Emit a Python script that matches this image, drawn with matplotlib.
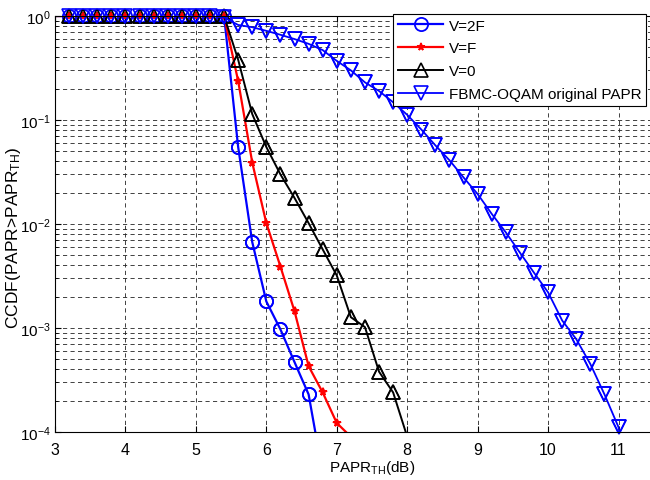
import numpy as np
import matplotlib
matplotlib.use("Agg")
import matplotlib.pyplot as plt
from matplotlib.ticker import LogLocator, NullFormatter

plt.rcParams['font.family'] = ['Liberation Sans', 'DejaVu Sans']
plt.rcParams['mathtext.fontset'] = 'custom'
plt.rcParams['mathtext.rm'] = 'Liberation Sans'
plt.rcParams['mathtext.it'] = 'Liberation Sans:italic'
plt.rcParams['font.size'] = 11

# PAPR threshold grid (dB)
papr_th = [3.0, 3.2, 3.4, 3.6, 3.8, 4.0, 4.2, 4.4, 4.6, 4.8, 5.0, 5.2, 5.4,
           5.6, 5.8, 6.0, 6.2, 6.4, 6.6, 6.8, 7.0, 7.2, 7.4, 7.6, 7.8, 8.0,
           8.2, 8.4, 8.6, 8.8, 9.0, 9.2, 9.4, 9.6, 9.8, 10.0, 10.2, 10.4,
           10.6, 10.8, 11.0, 11.2]

ones = [1.0] * 13  # 3.0 .. 5.4 dB

ccdf_v2f = ones + [0.055, 0.0067, 0.0018, 0.00097, 0.00047, 0.00023, 4e-5]
ccdf_vf = ones + [0.237, 0.039, 0.0102, 0.0039, 0.00145, 0.00043, 0.00024,
                  0.000122, 9e-5]
ccdf_v0 = ones + [0.38, 0.114, 0.055, 0.030, 0.0178, 0.0102, 0.0057, 0.0032,
                  0.00127, 0.00102, 0.00038, 0.00024, 9e-5]
ccdf_orig = [1.0] * 12 + [0.97, 0.82, 0.78, 0.72, 0.66, 0.60, 0.54, 0.47,
                          0.37, 0.30, 0.23, 0.19, 0.148, 0.112, 0.081, 0.057,
                          0.041, 0.028, 0.0194, 0.0125, 0.0083, 0.0053, 0.0034,
                          0.0022, 0.00118, 0.00078, 0.00045, 0.00023, 0.000111,
                          1.5e-5]

series = [
    (ccdf_v2f, 'V=2F', dict(color='b', marker='o', ms=9.5, mfc='none', mew=1.3, lw=1.6)),
    (ccdf_vf, 'V=F', dict(color='r', marker='*', ms=5.5, mew=1.2, lw=1.6)),
    (ccdf_v0, 'V=0', dict(color='k', marker='^', ms=10, mfc='none', mew=1.2, lw=1.4)),
    (ccdf_orig, 'FBMC-OQAM original PAPR', dict(color='b', marker='v', ms=10.5, mfc='none', mew=1.2, lw=1.3)),
]

fig = plt.figure(figsize=(6.5, 4.81), dpi=100)
ax = fig.add_axes([55 / 650, 48 / 481, 634 / 650, 416 / 481])

for vals, lab, st in series:
    x = np.array(papr_th[:len(vals)])
    y = np.array(vals)
    keep = np.where((x > 3.1) & (y >= 1e-4))[0]
    ax.plot(x, y, label=lab, markevery=list(keep), **st)
    ax.plot(x[keep], y[keep], linestyle='none', clip_on=False,
            **{k: v for k, v in st.items() if k != 'lw'})

ax.set_yscale('log')
ax.set_xlim(3, 12)
ax.set_ylim(1e-4, 1)
ax.set_xticks(range(3, 12))
ax.yaxis.set_major_locator(LogLocator(base=10, numticks=10))
ax.yaxis.set_minor_locator(LogLocator(base=10, subs=np.arange(2, 10), numticks=10))
ax.yaxis.set_minor_formatter(NullFormatter())

ax.grid(True, which='major', axis='both', color='#222222', lw=0.6, linestyle=(0, (5, 4)))
ax.grid(True, which='minor', axis='y', color='#222222', lw=0.6, linestyle=(0, (5, 4)))
ax.tick_params(which='both', direction='in', top=True, right=True)
ax.tick_params(axis='x', labelsize=11.5, pad=7)
ax.tick_params(axis='y', labelsize=11, pad=3)
ax.tick_params(which='major', length=4)
ax.tick_params(which='minor', length=2)
for s in ax.spines.values():
    s.set_linewidth(0.8)

ax.set_xlabel('PAPR$_{\\rm TH}$(dB)', fontsize=11, labelpad=1)
ax.set_ylabel('CCDF(PAPR>PAPR$_{\\rm TH}$)', fontsize=12.5)
ax.yaxis.set_label_coords(-0.051, 0.47)

leg = ax.legend(loc='upper left', bbox_to_anchor=(393 / 650, 1 - 15 / 481),
                bbox_transform=fig.transFigure, frameon=True, fancybox=False,
                edgecolor='k', framealpha=1, handlelength=3.0, handletextpad=0.35,
                labelspacing=0.58, borderpad=0.3, borderaxespad=0, fontsize=11)
leg.get_frame().set_linewidth(0.8)

fig.savefig('out.png', dpi=100)
